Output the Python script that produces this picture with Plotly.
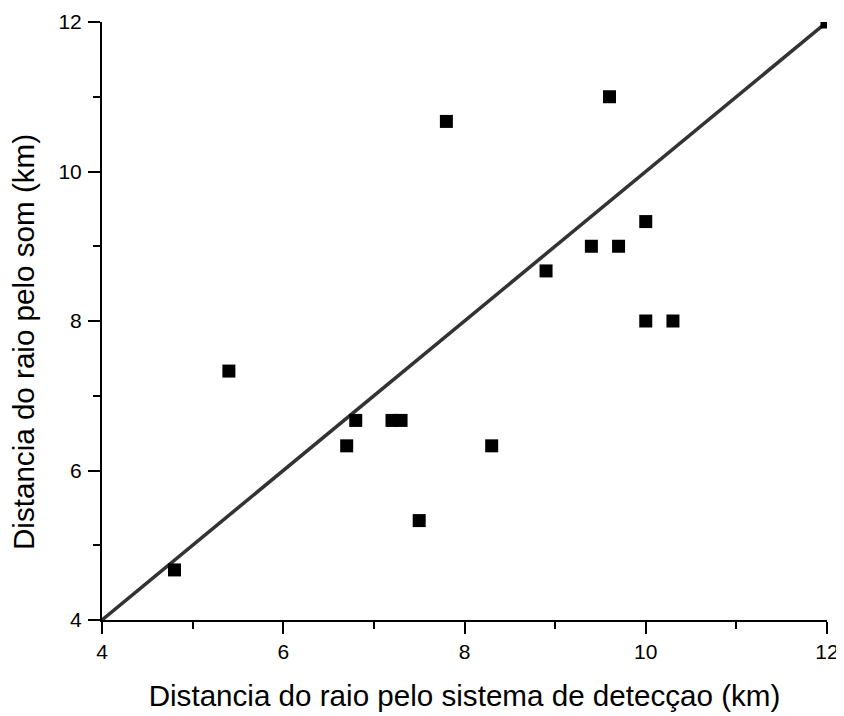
import plotly.graph_objects as go

x_sistema = [4.8, 5.4, 6.7, 6.8, 7.2, 7.3, 7.5, 7.8, 8.3, 8.9, 9.4, 9.6, 9.7, 10.0, 10.0, 10.3, 12.0]
y_som = [4.67, 7.33, 6.33, 6.67, 6.67, 6.67, 5.33, 10.67, 6.33, 8.67, 9.0, 11.0, 9.0, 9.33, 8.0, 8.0, 12.0]
line_x = [4, 12]
line_y = [4, 12]

FONT = "Liberation Sans, Arial"

fig = go.Figure()
fig.add_trace(go.Scatter(x=line_x, y=line_y, mode="lines",
                         line=dict(color="#333333", width=3.5), showlegend=False))
fig.add_trace(go.Scatter(x=x_sistema, y=y_som, mode="markers",
                         marker=dict(symbol="square", size=13, color="black", line=dict(width=0)),
                         showlegend=False))

axis_common = dict(
    showgrid=False, zeroline=False, showline=True, linecolor="black", linewidth=2,
    ticks="outside", ticklen=12, tickwidth=2, tickcolor="black", dtick=2,
    tickfont=dict(family=FONT, size=21, color="black"),
    minor=dict(ticks="outside", ticklen=7, tickwidth=2, tickcolor="black", dtick=1, showgrid=False),
)

fig.update_layout(
    width=844, height=716,
    margin=dict(l=94, r=25, t=14, b=104, autoexpand=False),
    paper_bgcolor="white", plot_bgcolor="white",
    xaxis=dict(range=[4, 12], tick0=4,
               title=dict(text="Distancia do raio pelo sistema de detecçao (km)",
                          font=dict(family=FONT, size=29.6, color="black"),
                          standoff=23),
               **axis_common),
    yaxis=dict(range=[4, 12], tick0=4, ticklabelstandoff=2, automargin=False,
               **axis_common),
    annotations=[dict(
        text="Distancia do raio pelo som (km)", textangle=-90,
        xref="paper", yref="paper", x=-0.1085, y=0.4654,
        xanchor="center", yanchor="middle", showarrow=False,
        font=dict(family=FONT, size=29.6, color="black"))],
)

fig.write_html("out.html")
